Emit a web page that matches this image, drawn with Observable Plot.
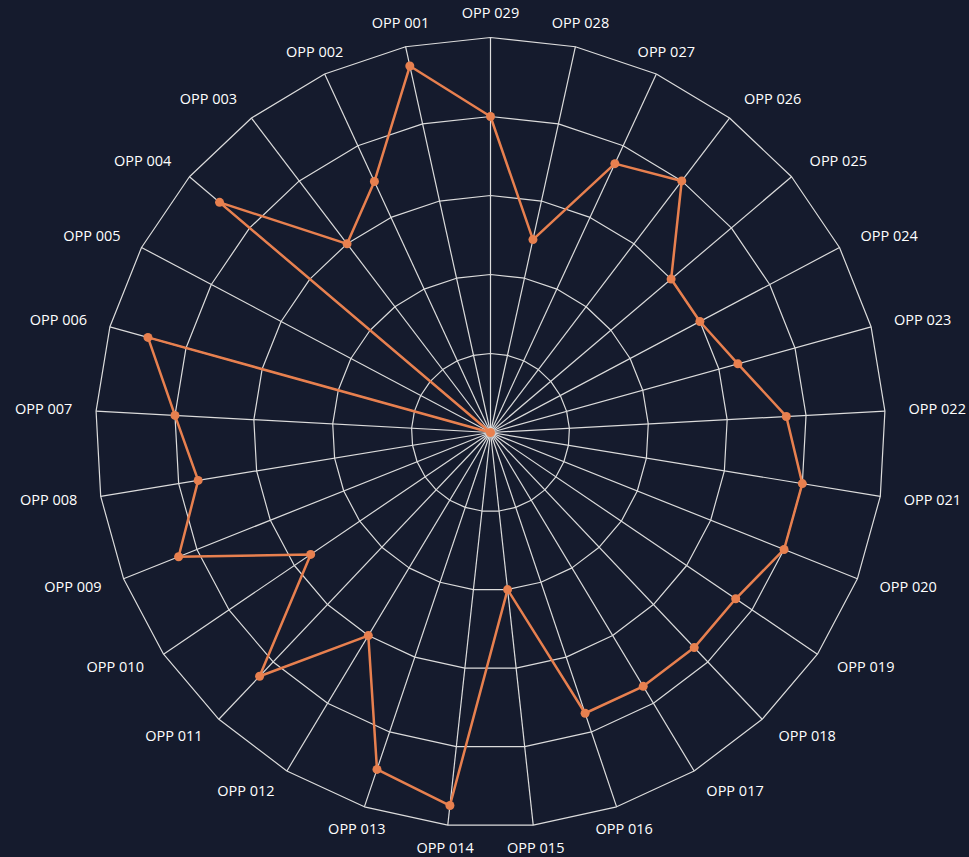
<!DOCTYPE html>
<html>
<head>
<meta charset="utf-8">
<script src="https://cdn.jsdelivr.net/npm/d3@7"></script>
<script src="https://cdn.jsdelivr.net/npm/@observablehq/plot@0.6"></script>
<style>
  html, body { margin: 0; padding: 0; background: #151b2d; }
  #chart svg { display: block; }
</style>
</head>
<body>
<div id="chart"></div>
<script>
const categories = ["OPP 001","OPP 002","OPP 003","OPP 004","OPP 005","OPP 006","OPP 007","OPP 008","OPP 009","OPP 010",
  "OPP 011","OPP 012","OPP 013","OPP 014","OPP 015","OPP 016","OPP 017","OPP 018","OPP 019","OPP 020",
  "OPP 021","OPP 022","OPP 023","OPP 024","OPP 025","OPP 026","OPP 027","OPP 028","OPP 029"];
const values = [95, 70, 60, 90, 0, 90, 80, 75, 85, 55,
  85, 60, 90, 95, 40, 75, 75, 75, 75, 80,
  80, 75, 65, 60, 60, 80, 75, 50, 80];
const ringLevels = [20, 40, 60, 80, 100];
const maxValue = 100;

const n = categories.length;
const angle = i => (i + 1) * 2 * Math.PI / n; // counter-clockwise from top
const px = (r, i) => -r * Math.sin(angle(i));
const py = (r, i) => r * Math.cos(angle(i));

const points = categories.map((c, i) => ({cat: c, x: px(values[i], i), y: py(values[i], i)}));
const loop = [...points, points[0]];

const rings = ringLevels.flatMap(lv => d3.range(n + 1).map(k => ({lv, x: px(lv, k % n), y: py(lv, k % n)})));
const spokes = categories.map((c, i) => ({x2: px(maxValue, i), y2: py(maxValue, i)}));
const labelR = 106;
const labels = categories.map((c, i) => {
  const s = Math.sin(angle(i));
  return {cat: c, x: px(labelR, i), y: py(labelR, i),
    anchor: Math.abs(s) < 0.5 ? "middle" : (s > 0 ? "end" : "start")};
});

const W = 969, H = 857;
const chart = Plot.plot({
  width: W, height: H,
  marginLeft: 95, marginRight: 84, marginTop: 37, marginBottom: 30,
  x: {domain: [-100, 100], axis: null},
  y: {domain: [-100, 100], axis: null},
  style: {background: "#151b2d", fontFamily: "'Open Sans', sans-serif"},
  marks: [
    Plot.line(rings, {x: "x", y: "y", z: "lv", stroke: "#dcdcdc", strokeWidth: 1.2}),
    Plot.link(spokes, {x1: 0, y1: 0, x2: "x2", y2: "y2", stroke: "#dcdcdc", strokeWidth: 1.2}),
    Plot.line(loop, {x: "x", y: "y", stroke: "#e8804f", strokeWidth: 2.5, curve: "linear"}),
    Plot.dot(points, {x: "x", y: "y", r: 4.5, fill: "#e8804f", stroke: "none"}),
    ...["start", "middle", "end"].map(a =>
      Plot.text(labels.filter(d => d.anchor === a), {x: "x", y: "y", text: "cat", textAnchor: a, fill: "#ffffff", fontSize: 14.5}))
  ]
});
document.getElementById("chart").appendChild(chart);
</script>
</body>
</html>
